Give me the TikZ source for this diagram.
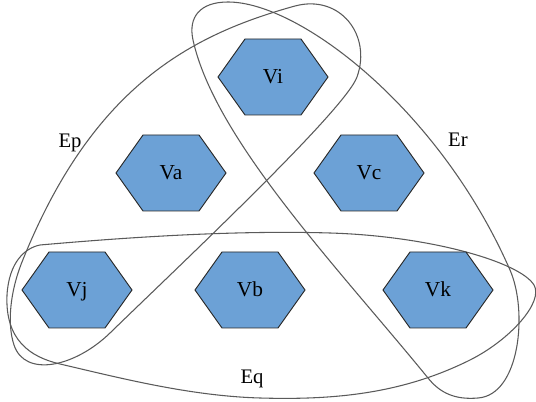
\documentclass[tikz,border=0pt]{standalone}
\usepackage{fontspec}
\setmainfont{Liberation Serif}
\definecolor{hexblue}{RGB}{108,161,214}
\definecolor{hexline}{RGB}{40,40,40}
\definecolor{edgeline}{RGB}{90,90,90}
\tikzset{
  hexbox/.style={fill=hexblue, draw=hexline, line width=0.7pt, line join=miter},
  hexlabel/.style={inner sep=0pt, anchor=base, font=\fontsize{16}{18}\selectfont},
  elabel/.style={inner sep=0pt, anchor=base, font=\fontsize{15.5}{18}\selectfont},
  hyper/.style={draw=edgeline, line width=0.8pt}
}
\begin{document}
\begin{tikzpicture}[x=0.75pt,y=-0.75pt]
\useasboundingbox (0,0) rectangle (536,402);
% hyperedge Ep
\draw[hyper] (295,6) .. controls (340,-6) and (372,35) .. (357,77)
  .. controls (345,110) and (180,265) .. (110,333)
  .. controls (75,367) and (25,378) .. (14,345)
  .. controls (7,324) and (10,292) .. (22,262)
  .. controls (92,87) and (190,35) .. (295,6) -- cycle;
% hyperedge Er
\draw[hyper] (193,40) .. controls (188,17) and (200,2) .. (228,2)
  .. controls (300,2) and (440,110) .. (510,270)
  .. controls (528,311) and (520,395) .. (478,398)
  .. controls (455,400) and (440,393) .. (428,378)
  .. controls (340,270) and (215,140) .. (193,40) -- cycle;
% hyperedge Eq
\draw[hyper] (40,245) .. controls (120,238) and (230,230) .. (330,233)
  .. controls (430,236) and (520,262) .. (534,285)
  .. controls (544,302) and (510,340) .. (470,360)
  .. controls (400,395) and (330,400) .. (260,398)
  .. controls (190,396) and (120,378) .. (60,364)
  .. controls (30,357) and (5,340) .. (7,295)
  .. controls (9,262) and (25,248) .. (40,245) -- cycle;
% vertices
\foreach \nm/\tx/\cx/\cy in {vi/Vi/273/77, va/Va/171/173, vc/Vc/369/173,
                              vj/Vj/77/290, vb/Vb/250/290, vk/Vk/438/290} {
  \draw[hexbox] (\cx,\cy) +(-55,0) -- +(-28,-38) -- +(28,-38) -- +(55,0) -- +(28,38) -- +(-28,38) -- cycle;
  \node[hexlabel] (\nm) at (\cx,\cy+6.5) {\tx};
}
% labels
\node[elabel] (ep) at (70,148) {Ep};
\node[elabel] (er) at (458,147) {Er};
\node[elabel] (eq) at (252,384) {Eq};
\end{tikzpicture}
\end{document}
